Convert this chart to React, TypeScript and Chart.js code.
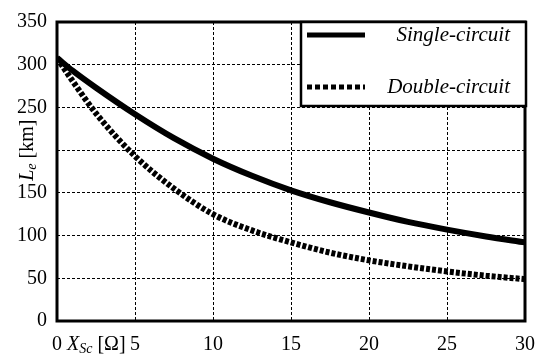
import React, { useEffect, useRef } from 'react';
import { Chart, registerables } from 'chart.js';

Chart.register(...registerables);

const xValues = [0, 1, 2.5, 5, 7.5, 10, 12.5, 15, 17.5, 20, 22.5, 25, 27.5, 30];
const singleCircuit = [308, 293, 273, 242, 214, 190, 170, 153, 139, 127, 116, 107, 99, 92];
const doubleCircuit = [308, 281, 243, 193, 155, 125, 106, 92, 80, 71, 64, 58, 53, 49];
const seriesNames = ['Single-circuit', 'Double-circuit'];
const hiddenYTick = 200;

const SERIF = '"Liberation Serif", "Times New Roman", serif';

const decor = {
  id: 'decor',
  beforeDatasetsDraw(chart: any) {
    const { ctx, chartArea: a } = chart;
    ctx.save();
    ctx.strokeStyle = '#000';
    ctx.lineWidth = 3;
    ctx.setLineDash([]);
    ctx.strokeRect(a.left, a.top, a.right - a.left, a.bottom - a.top);
    ctx.restore();
  },
  afterDatasetsDraw(chart: any) {
    const { ctx, chartArea: a, scales } = chart;
    // legend box
    const bx = 301, by = a.top, bw = a.right + 1 - bx, bh = 84;
    ctx.save();
    ctx.fillStyle = '#fff';
    ctx.fillRect(bx, by, bw, bh);
    ctx.strokeStyle = '#000';
    ctx.lineWidth = 2.5;
    ctx.strokeRect(bx, by, bw, bh);
    ctx.lineWidth = 5;
    ctx.beginPath();
    ctx.moveTo(307, by + 13);
    ctx.lineTo(365, by + 13);
    ctx.stroke();
    ctx.setLineDash([5, 3]);
    ctx.beginPath();
    ctx.moveTo(307, by + 65);
    ctx.lineTo(365, by + 65);
    ctx.stroke();
    ctx.setLineDash([]);
    ctx.fillStyle = '#000';
    ctx.font = `italic 21px ${SERIF}`;
    ctx.textAlign = 'right';
    ctx.textBaseline = 'middle';
    ctx.fillText(seriesNames[0], 510, by + 13);
    ctx.fillText(seriesNames[1], 510, by + 65);
    ctx.restore();

    // x axis title
    const xs = scales.x;
    const yMid = xs.top + 12 + 12;
    ctx.save();
    ctx.fillStyle = '#000';
    ctx.textAlign = 'left';
    ctx.textBaseline = 'middle';
    let x = 67;
    ctx.font = `italic 20px ${SERIF}`;
    ctx.fillText('X', x, yMid);
    x += ctx.measureText('X').width;
    ctx.font = `italic 14px ${SERIF}`;
    ctx.fillText('Sc', x, yMid + 4);
    x += ctx.measureText('Sc').width;
    ctx.font = `20px ${SERIF}`;
    ctx.fillText(' [Ω]', x, yMid);
    ctx.restore();

    // y axis title
    const ys = scales.y;
    ctx.save();
    ctx.translate(28, ys.getPixelForValue(hiddenYTick));
    ctx.rotate(-Math.PI / 2);
    ctx.fillStyle = '#000';
    ctx.textBaseline = 'middle';
    ctx.textAlign = 'left';
    ctx.font = `italic 20px ${SERIF}`;
    const wL = ctx.measureText('L').width;
    ctx.font = `italic 14px ${SERIF}`;
    const wE = ctx.measureText('e').width;
    ctx.font = `20px ${SERIF}`;
    const wK = ctx.measureText(' [km]').width;
    let t = -(wL + wE + wK) / 2;
    ctx.font = `italic 20px ${SERIF}`;
    ctx.fillText('L', t, 0);
    t += wL;
    ctx.font = `italic 14px ${SERIF}`;
    ctx.fillText('e', t, 4);
    t += wE;
    ctx.font = `20px ${SERIF}`;
    ctx.fillText(' [km]', t, 0);
    ctx.restore();
  },
};

export default function App() {
  const ref = useRef<HTMLCanvasElement>(null);
  useEffect(() => {
    if (!ref.current) return;
    const chart = new Chart(ref.current, {
      type: 'line',
      data: {
        datasets: [
          {
            label: seriesNames[0],
            data: xValues.map((x, i) => ({ x, y: singleCircuit[i] })),
            borderColor: '#000',
            borderWidth: 6,
            pointRadius: 0,
            cubicInterpolationMode: 'monotone',
            fill: false,
          },
          {
            label: seriesNames[1],
            data: xValues.map((x, i) => ({ x, y: doubleCircuit[i] })),
            borderColor: '#000',
            borderWidth: 6,
            borderDash: [4, 2],
            pointRadius: 0,
            cubicInterpolationMode: 'monotone',
            fill: false,
          },
        ],
      },
      options: {
        responsive: false,
        animation: false,
        layout: { padding: { left: 0, top: 14, right: 21, bottom: 0 } },
        plugins: { legend: { display: false }, tooltip: { enabled: false } },
        scales: {
          x: {
            type: 'linear',
            min: 0,
            max: 30,
            afterFit: (s: any) => { s.height = 35; },
            ticks: { stepSize: 5, color: '#000', padding: 12, font: { family: SERIF, size: 20 }, maxRotation: 0 },
            grid: { color: '#000', lineWidth: 1, drawTicks: false },
            border: { display: false, dash: [3, 2] },
          },
          y: {
            min: 0,
            max: 350,
            afterFit: (s: any) => { s.width = 57; },
            ticks: {
              stepSize: 50,
              color: '#000',
              padding: 10,
              font: { family: SERIF, size: 20 },
              callback: (v: any) => (v === hiddenYTick ? '' : String(v)),
            },
            grid: { color: '#000', lineWidth: 1, drawTicks: false },
            border: { display: false, dash: [3, 2] },
          },
        },
      },
      plugins: [decor],
    });
    return () => chart.destroy();
  }, []);
  return (
    <div style={{ position: 'fixed', left: 0, top: 0, width: 547, height: 356, background: '#fff' }}>
      <canvas ref={ref} width={547} height={356} style={{ display: 'block' }} />
    </div>
  );
}
